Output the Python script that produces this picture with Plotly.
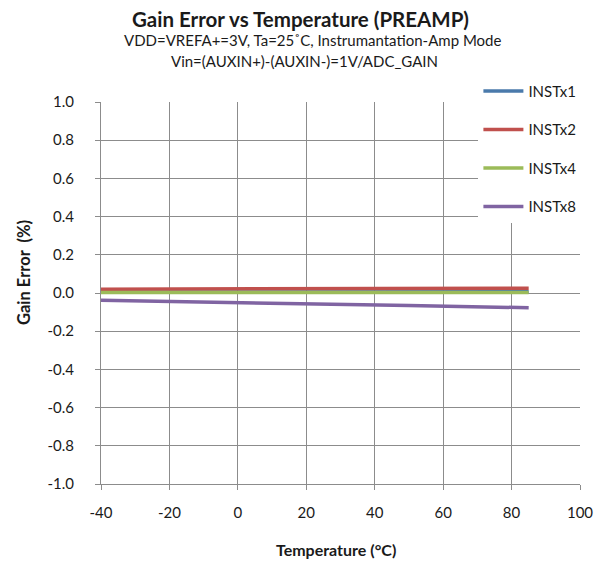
import plotly.graph_objects as go

temps = [-40, -20, 0, 25, 50, 85]
inst_x1 = [0.005, 0.005, 0.005, 0.005, 0.005, 0.006]
inst_x2 = [0.020, 0.021, 0.021, 0.022, 0.022, 0.025]
inst_x4 = [0.002, 0.002, 0.002, 0.002, 0.002, 0.002]
inst_x8 = [-0.038, -0.045, -0.052, -0.059, -0.066, -0.077]

series = [
    ("INSTx1", inst_x1, "#4a7aab"),
    ("INSTx2", inst_x2, "#c0504d"),
    ("INSTx4", inst_x4, "#9bbb59"),
    ("INSTx8", inst_x8, "#8064a2"),
]

x_ticks = [-40, -20, 0, 20, 40, 60, 80, 100]
y_ticks = [1.0, 0.8, 0.6, 0.4, 0.2, 0.0, -0.2, -0.4, -0.6, -0.8, -1.0]

# page body has an 8px margin; layout values compensate so screen positions match
OFF = 8
W, H = 607, 561
ML, MR, MT, MB = 101 - OFF, 27 + OFF, 102 - OFF, 77 + OFF
PW, PH = W - ML - MR, H - MT - MB


def px_x(px):
    return (px - OFF - ML) / PW


def px_y(py):
    return 1 + (MT - (py - OFF)) / PH


fig = go.Figure()
for name, vals, col in series:
    fig.add_trace(go.Scatter(x=temps, y=vals, name=name, mode="lines",
                             line=dict(color=col, width=3.5), legendgroup=name))

font = "Lato, Open Sans, sans-serif"
fig.update_layout(
    width=W, height=H,
    margin=dict(l=ML, r=MR, t=MT, b=MB),
    paper_bgcolor="white", plot_bgcolor="white",
    font=dict(family=font, color="#1a1a1a"),
    annotations=[
        dict(text="<b>Gain Error vs Temperature (PREAMP)</b>", x=px_x(300), y=px_y(19),
             xref="paper", yref="paper", showarrow=False, yanchor="middle",
             font=dict(size=20.5, family=font)),
        dict(text="VDD=VREFA+=3V, Ta=25˚C, Instrumantation-Amp Mode", x=px_x(312), y=px_y(40),
             xref="paper", yref="paper", showarrow=False, yanchor="middle",
             font=dict(size=15, family=font)),
        dict(text="Vin=(AUXIN+)-(AUXIN-)=1V/ADC_GAIN", x=px_x(304), y=px_y(61),
             xref="paper", yref="paper", showarrow=False, yanchor="middle",
             font=dict(size=15, family=font)),
        dict(text="<b>Temperature (°C)</b>", x=px_x(336), y=px_y(549),
             xref="paper", yref="paper", showarrow=False, yanchor="middle",
             font=dict(size=16, family=font)),
        dict(text="<b>Gain Error  (%)</b>", x=px_x(24), y=px_y(273), textangle=-90,
             xref="paper", yref="paper", showarrow=False, xanchor="center", yanchor="middle",
             font=dict(size=16.5, family=font)),
    ],
    showlegend=True,
    legend=dict(x=px_x(478.4), y=px_y(74.7), xanchor="left", yanchor="top", bgcolor="white",
                font=dict(size=15, family=font), tracegroupgap=16,
                itemwidth=40, borderwidth=0),
)

fig.update_xaxes(range=[-40, 100], tickvals=x_ticks, ticktext=[str(v) for v in x_ticks],
                 showgrid=True, gridcolor="#8c8c8c", gridwidth=1,
                 showline=True, linecolor="#8c8c8c", linewidth=1,
                 ticks="outside", ticklen=5, tickcolor="#8c8c8c",
                 tickfont=dict(size=15), zeroline=False, automargin=False,
                 ticklabelstandoff=10)
fig.update_yaxes(range=[-1.0, 1.0], tickvals=y_ticks, ticktext=[f"{v:.1f}" for v in y_ticks],
                 showgrid=True, gridcolor="#8c8c8c", gridwidth=1,
                 showline=True, linecolor="#8c8c8c", linewidth=1,
                 ticks="outside", ticklen=5, tickcolor="#8c8c8c",
                 tickfont=dict(size=15), zeroline=False, automargin=False,
                 ticklabelstandoff=18)

fig.write_html("out.html")
